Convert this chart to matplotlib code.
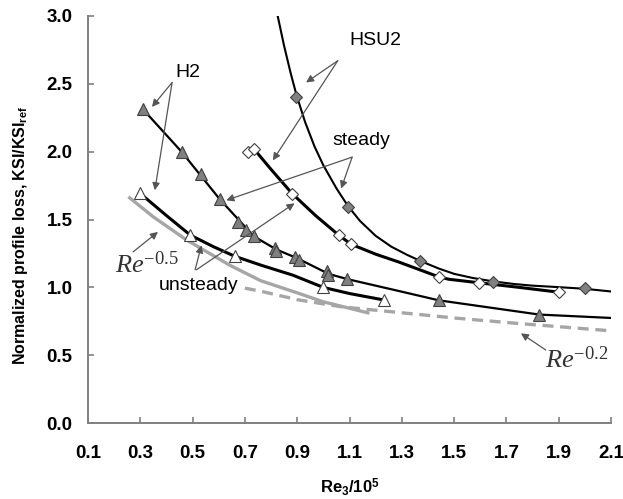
import matplotlib
matplotlib.use("Agg")
from matplotlib import pyplot as plt

plt.rcParams['mathtext.fontset'] = 'custom'
plt.rcParams['mathtext.rm'] = 'Liberation Serif'
plt.rcParams['mathtext.it'] = 'Liberation Serif:italic'
plt.rcParams['mathtext.bf'] = 'Liberation Sans:bold'

# markers
h2_steady_x = [0.309, 0.458, 0.531, 0.604, 0.674, 0.706, 0.734, 0.814, 0.820, 0.890, 0.906, 1.015, 1.018, 1.091, 1.441, 1.825]
h2_steady_y = [2.316, 2.00, 1.833, 1.65, 1.48, 1.42, 1.377, 1.293, 1.266, 1.225, 1.20, 1.12, 1.09, 1.062, 0.905, 0.80]
h2_unsteady_x = [0.298, 0.492, 0.661, 1.00, 1.23]
h2_unsteady_y = [1.696, 1.385, 1.230, 1.00, 0.908]
hsu2_steady_x = [0.897, 1.094, 1.371, 1.647, 1.999]
hsu2_steady_y = [2.40, 1.593, 1.193, 1.041, 0.995]
hsu2_unsteady_x = [0.712, 0.734, 0.881, 1.059, 1.106, 1.441, 1.596, 1.899]
hsu2_unsteady_y = [1.997, 2.022, 1.691, 1.385, 1.318, 1.078, 1.032, 0.965]

# fitted curves
h2_steady_fit_x = [0.309, 0.458, 0.604, 0.734, 0.82, 0.90, 1.02, 1.09, 1.29, 1.441, 1.825, 2.10]
h2_steady_fit_y = [2.316, 2.00, 1.65, 1.377, 1.28, 1.215, 1.10, 1.062, 0.973, 0.905, 0.80, 0.775]
h2_unsteady_fit_x = [0.298, 0.40, 0.492, 0.58, 0.661, 0.76, 0.884, 1.00, 1.10, 1.23]
h2_unsteady_fit_y = [1.696, 1.53, 1.385, 1.30, 1.23, 1.165, 1.09, 1.00, 0.955, 0.908]
hsu2_steady_fit_x = [0.82, 0.85, 0.875, 0.897, 0.93, 0.966, 1.00, 1.05, 1.094, 1.14, 1.20, 1.26, 1.32,
                     1.371, 1.44, 1.50, 1.57, 1.647, 1.73, 1.80, 1.90, 1.999, 2.10]
hsu2_steady_fit_y = [3.05, 2.78, 2.58, 2.42, 2.22, 2.04, 1.90, 1.73, 1.60, 1.49, 1.38, 1.30, 1.24,
                     1.195, 1.14, 1.10, 1.07, 1.045, 1.025, 1.013, 1.002, 0.99, 0.97]
hsu2_unsteady_fit_x = [0.734, 0.80, 0.881, 0.97, 1.059, 1.106, 1.20, 1.29, 1.441, 1.48, 1.596, 1.75, 1.899]
hsu2_unsteady_fit_y = [2.022, 1.87, 1.691, 1.53, 1.385, 1.318, 1.245, 1.186, 1.078, 1.06, 1.034, 1.00, 0.965]

re05_x = [0.26, 0.35, 0.477, 0.642, 0.76, 0.90, 1.00, 1.17]
re05_y = [1.66, 1.52, 1.35, 1.164, 1.05, 0.96, 0.894, 0.813]
re02_x = [0.70, 0.77, 0.90, 1.07, 1.29, 1.50, 1.71, 2.10]
re02_y = [0.995, 0.968, 0.91, 0.857, 0.815, 0.775, 0.74, 0.68]

xticks = [0.1, 0.3, 0.5, 0.7, 0.9, 1.1, 1.3, 1.5, 1.7, 1.9, 2.1]
yticks = [0.0, 0.5, 1.0, 1.5, 2.0, 2.5, 3.0]

tickfont = ['Liberation Sans Narrow', 'Liberation Sans', 'DejaVu Sans']
textfont = ['Liberation Sans', 'DejaVu Sans']

fig = plt.figure(figsize=(6.23, 4.99), dpi=100)
ax = fig.add_axes([0.141, 0.152, 0.840, 0.816])

gray = '#808080'
ax.plot(re05_x, re05_y, color='#a6a6a6', lw=2.4, zorder=2)
ax.plot(re02_x, re02_y, color='#a6a6a6', lw=2.4, ls=(0, (3.3, 2)), zorder=2)

ax.plot(h2_steady_fit_x, h2_steady_fit_y, color='black', lw=1.6, zorder=3)
ax.plot(h2_unsteady_fit_x, h2_unsteady_fit_y, color='black', lw=2.2, zorder=3)
ax.plot(hsu2_steady_fit_x, hsu2_steady_fit_y, color='black', lw=1.5, zorder=3)
ax.plot(hsu2_unsteady_fit_x, hsu2_unsteady_fit_y, color='black', lw=2.2, zorder=3)

ax.plot(h2_steady_x, h2_steady_y, ls='none', marker='^', ms=9, mfc=gray, mec='#404040', mew=0.8, zorder=4)
ax.plot(h2_unsteady_x, h2_unsteady_y, ls='none', marker='^', ms=9, mfc='white', mec='#404040', mew=0.8, zorder=4)
ax.plot(hsu2_steady_x, hsu2_steady_y, ls='none', marker='D', ms=6.5, mfc=gray, mec='#404040', mew=0.8, zorder=4)
ax.plot(hsu2_unsteady_x, hsu2_unsteady_y, ls='none', marker='D', ms=6.5, mfc='white', mec='#404040', mew=0.8, zorder=4)

ax.set_xlim(0.1, 2.1)
ax.set_ylim(0.0, 3.0)
ax.set_xticks(xticks)
ax.set_yticks(yticks)
ax.set_xticklabels(['%.1f' % v for v in xticks], family=tickfont, fontweight='bold', fontsize=13.5)
ax.set_yticklabels(['%.1f' % v for v in yticks], family=tickfont, fontweight='bold', fontsize=13.5)
ax.tick_params(direction='in', length=4, color=gray, width=1.2)
ax.tick_params(axis='x', pad=16)
ax.tick_params(axis='y', pad=11)
for s in ['top', 'right']:
    ax.spines[s].set_visible(False)
for s in ['left', 'bottom']:
    ax.spines[s].set_color(gray)
    ax.spines[s].set_linewidth(1.4)

ax.set_ylabel(r'Normalized profile loss, KSI/KSI$_{\mathbf{ref}}$', family=textfont,
              fontweight='bold', fontsize=11.5)
ax.yaxis.set_label_coords(-0.111, 0.462)
ax.set_xlabel(r'Re$_{\mathbf{3}}$/10$^{\mathbf{5}}$', family=textfont,
              fontweight='bold', fontsize=12)
ax.xaxis.set_label_coords(0.5, -0.13)

arrow = dict(arrowstyle='-|>', color='#555555', lw=0.9, shrinkA=0, shrinkB=0, mutation_scale=11)

def label(txt, x, y, **kw):
    ax.text(x, y, txt, ha='center', va='center', family=textfont, fontsize=14, zorder=6,
            bbox=dict(facecolor='white', edgecolor='none', pad=1), **kw)

def arr(x0, y0, x1, y1):
    ax.annotate('', xy=(x1, y1), xytext=(x0, y0), arrowprops=arrow, zorder=5)

label('H2', 0.483, 2.585)
arr(0.422, 2.51, 0.345, 2.33)
arr(0.422, 2.51, 0.356, 1.716)

label('HSU2', 1.199, 2.82)
arr(1.055, 2.67, 0.934, 2.51)
arr(1.055, 2.67, 0.807, 1.936)

label('steady', 1.144, 2.08)
arr(1.110, 1.96, 1.068, 1.728)
arr(1.110, 1.96, 0.629, 1.642)

label('unsteady', 0.524, 1.013)
arr(0.51, 1.13, 0.534, 1.31)
arr(0.515, 1.13, 0.89, 1.62)

ax.text(0.325, 1.16, r'$Re^{\mathit{-0.5}}$', fontsize=19, color='#333333', ha='center', va='center', zorder=6)
arr(0.273, 1.262, 0.368, 1.409)
ax.text(1.97, 0.46, r'$Re^{\mathit{-0.2}}$', fontsize=19, color='#333333', ha='center', va='center', zorder=6)
arr(1.85, 0.539, 1.755, 0.662)

fig.savefig('out.png', dpi=100)
